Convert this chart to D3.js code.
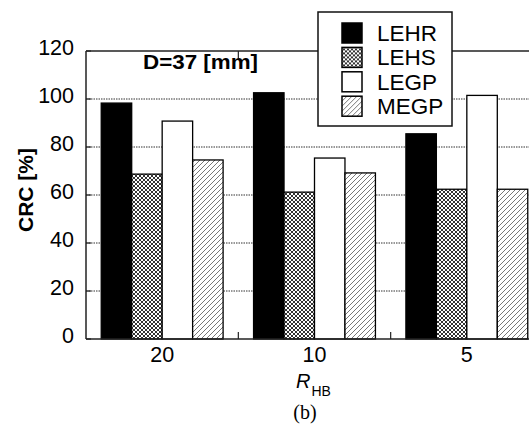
<!DOCTYPE html>
<html>
<head>
<meta charset="utf-8">
<script src="https://cdn.jsdelivr.net/npm/d3@7"></script>
<style>
html,body{margin:0;padding:0;background:#fff;}
svg{display:block;}
</style>
</head>
<body>
<svg id="chart" width="529" height="427"></svg>
<script>
const categories = ["20", "10", "5"];
const seriesNames = ["LEHR", "LEHS", "LEGP", "MEGP"];
const LEHR = [98.3, 102.6, 85.5];
const LEHS = [68.7, 61.2, 62.4];
const LEGP = [90.8, 75.4, 101.5];
const MEGP = [74.6, 69.2, 62.4];
const yTicks = [0, 20, 40, 60, 80, 100, 120];
const seriesValues = [LEHR, LEHS, LEGP, MEGP];

const svg = d3.select("#chart");
const margin = {left: 86, top: 51, right: 543, bottom: 339};

const defs = svg.append("defs");
const pc = defs.append("pattern").attr("id", "cross").attr("patternUnits", "userSpaceOnUse")
  .attr("width", 4).attr("height", 4);
pc.append("rect").attr("width", 4).attr("height", 4).attr("fill", "#fff");
pc.append("path").attr("d", "M0,0L4,4M4,0L0,4").attr("stroke", "#333").attr("stroke-width", 1);
const ph = defs.append("pattern").attr("id", "hatch").attr("patternUnits", "userSpaceOnUse")
  .attr("width", 5).attr("height", 5);
ph.append("rect").attr("width", 5).attr("height", 5).attr("fill", "#fff");
ph.append("path").attr("d", "M-1,6L6,-1M-1,1L1,-1M4,6L6,4").attr("stroke", "#777").attr("stroke-width", 1);

const fills = {LEHR: "#000", LEHS: "url(#cross)", LEGP: "#fff", MEGP: "url(#hatch)"};

const x = d3.scaleBand().domain(categories).range([margin.left, margin.right]).paddingInner(0).paddingOuter(0);
const xs = d3.scaleBand().domain(seriesNames).range([0, x.bandwidth()]).paddingInner(0).paddingOuter(0.5);
const y = d3.scaleLinear().domain([0, 120]).range([margin.bottom, margin.top]);

// gridlines
svg.append("g").selectAll("line").data(yTicks.filter(t => t > 0 && t < 120)).join("line")
  .attr("x1", margin.left).attr("x2", 529)
  .attr("y1", d => y(d)).attr("y2", d => y(d))
  .attr("stroke", "#333").attr("stroke-width", 1).attr("stroke-dasharray", "1.5,1");

// bars
const gBars = svg.append("g");
seriesNames.forEach((s, si) => {
  gBars.selectAll(null).data(seriesValues[si]).join("rect")
    .attr("x", (d, i) => x(categories[i]) + xs(s))
    .attr("width", xs.bandwidth())
    .attr("y", d => y(d))
    .attr("height", d => y(0) - y(d))
    .attr("fill", fills[s])
    .attr("stroke", "#000").attr("stroke-width", 1.3);
});

// frame
svg.append("line").attr("x1", margin.left).attr("x2", 529).attr("y1", y(120)).attr("y2", y(120))
  .attr("stroke", "#222").attr("stroke-width", 1.5);
svg.append("line").attr("x1", margin.left).attr("x2", 529).attr("y1", y(0)).attr("y2", y(0))
  .attr("stroke", "#222").attr("stroke-width", 1.5);
svg.append("line").attr("x1", margin.left).attr("x2", margin.left).attr("y1", y(120)).attr("y2", y(0))
  .attr("stroke", "#222").attr("stroke-width", 1.5);

// y ticks
svg.append("g").selectAll("line").data(yTicks).join("line")
  .attr("x1", margin.left).attr("x2", margin.left + 5)
  .attr("y1", d => y(d)).attr("y2", d => y(d))
  .attr("stroke", "#222").attr("stroke-width", 1.2);
svg.append("g").selectAll("text").data(yTicks).join("text")
  .attr("x", 74).attr("y", d => y(d) + 4)
  .attr("text-anchor", "end")
  .attr("font-family", "Liberation Sans, Arial, sans-serif").attr("font-size", 21.5)
  .attr("fill", "#000")
  .text(d => d);

// x minor ticks at group boundaries
const bounds = categories.slice(1).map(c => x(c));
svg.append("g").selectAll("line").data(bounds).join("line")
  .attr("x1", d => d).attr("x2", d => d).attr("y1", y(0)).attr("y2", y(0) - 7)
  .attr("stroke", "#222").attr("stroke-width", 1.2);
svg.append("g").selectAll("line").data(bounds).join("line")
  .attr("x1", d => d).attr("x2", d => d).attr("y1", y(120)).attr("y2", y(120) + 7)
  .attr("stroke", "#222").attr("stroke-width", 1.2);

// x labels
svg.append("g").selectAll("text").data(categories).join("text")
  .attr("x", d => x(d) + x.bandwidth() / 2).attr("y", 362)
  .attr("text-anchor", "middle")
  .attr("font-family", "Liberation Sans, Arial, sans-serif").attr("font-size", 21.5)
  .text(d => d);

// axis titles
const xt = svg.append("text").attr("x", 296).attr("y", 388)
  .attr("font-family", "Liberation Sans, Arial, sans-serif");
xt.append("tspan").attr("font-style", "italic").attr("font-size", 20).text("R");
xt.append("tspan").attr("font-size", 14).attr("dy", 8).attr("dx", 1).text("HB");

svg.append("text").attr("transform", "translate(33,190) rotate(-90)")
  .attr("text-anchor", "middle")
  .attr("font-family", "Liberation Sans, Arial, sans-serif").attr("font-size", 21).attr("font-weight", "bold")
  .text("CRC [%]");

svg.append("text").attr("x", 143).attr("y", 69)
  .attr("font-family", "Liberation Sans, Arial, sans-serif").attr("font-size", 20).attr("font-weight", "bold")
  .attr("textLength", 115).attr("lengthAdjust", "spacingAndGlyphs")
  .text("D=37 [mm]");

svg.append("text").attr("x", 305).attr("y", 419).attr("text-anchor", "middle")
  .attr("font-family", "Liberation Serif, Times New Roman, serif").attr("font-size", 20)
  .text("(b)");

// legend
const lg = svg.append("g");
lg.append("rect").attr("x", 318).attr("y", 12).attr("width", 134).attr("height", 114)
  .attr("fill", "#fff").attr("stroke", "#111").attr("stroke-width", 1.5);
const rows = lg.selectAll("g").data(seriesNames).join("g")
  .attr("transform", (d, i) => `translate(342,${23 + i * 24.4})`);
rows.append("rect").attr("width", 20).attr("height", 20)
  .attr("fill", d => fills[d]).attr("stroke", "#000").attr("stroke-width", 1.5);
rows.append("text").attr("x", 35).attr("y", 18)
  .attr("font-family", "Liberation Sans, Arial, sans-serif").attr("font-size", 22.5)
  .text(d => d);
</script>
</body>
</html>
